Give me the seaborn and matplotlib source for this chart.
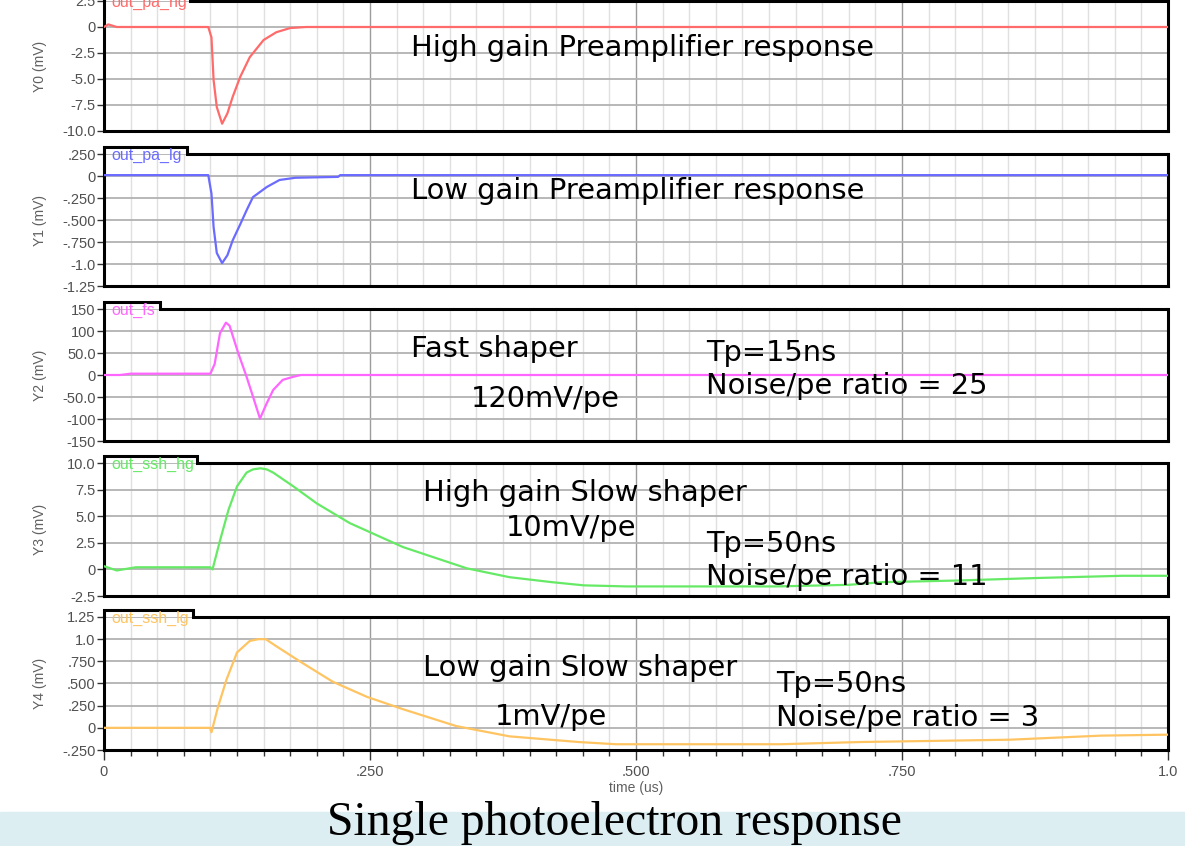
import numpy as np
import pandas as pd
import matplotlib
matplotlib.use("Agg")
import matplotlib.pyplot as plt
import seaborn as sns
from matplotlib.ticker import MultipleLocator
from matplotlib.patches import Rectangle

# --- traces: time (us), amplitude (mV) ---
t_pa_hg = [0, 0.004, 0.012, 0.098, 0.101, 0.103, 0.106, 0.111, 0.116, 0.121, 0.128, 0.137, 0.150, 0.162, 0.175, 0.19, 1.0]
v_pa_hg = [0, 0.25, 0, 0, -1.0, -5.1, -7.7, -9.3, -8.3, -6.7, -4.8, -2.9, -1.25, -0.5, -0.1, 0, 0]

t_pa_lg = [0, 0.098, 0.101, 0.103, 0.106, 0.111, 0.116, 0.121, 0.128, 0.134, 0.140, 0.153, 0.165, 0.180, 0.220, 0.222, 1.0]
v_pa_lg = [0.01, 0.01, -0.2, -0.58, -0.875, -0.99, -0.9, -0.73, -0.55, -0.39, -0.24, -0.125, -0.045, -0.02, -0.01, 0.01, 0.01]

t_fs = [0, 0.015, 0.025, 0.098, 0.100, 0.104, 0.109, 0.1146, 0.118, 0.126, 0.134, 0.140, 0.1466, 0.153, 0.159, 0.168, 0.178, 0.185, 1.0]
v_fs = [0, 0, 3, 3, 3, 25, 95, 119, 112, 51, -4, -49, -99, -64, -34, -11, -4, 0, 0]

t_ssh_hg = [0, 0.012, 0.03, 0.0996, 0.102, 0.109, 0.117, 0.125, 0.134, 0.140, 0.147, 0.153, 0.159, 0.178, 0.2, 0.231,
            0.281, 0.341, 0.381, 0.421, 0.451, 0.491, 0.632, 0.70, 0.731, 0.80, 0.88, 0.957, 1.0]
v_ssh_hg = [0.3, -0.1, 0.2, 0.2, 0.0, 2.7, 5.6, 7.8, 9.1, 9.4, 9.5, 9.4, 9.1, 7.8, 6.2, 4.35,
            2.1, 0.1, -0.73, -1.2, -1.5, -1.6, -1.6, -1.45, -1.2, -1.05, -0.8, -0.6, -0.6]

t_ssh_lg = [0, 0.0996, 0.101, 0.107, 0.115, 0.125, 0.137, 0.145, 0.152, 0.162, 0.184, 0.215, 0.247,
            0.281, 0.331, 0.381, 0.446, 0.481, 0.636, 0.711, 0.851, 0.937, 1.0]
v_ssh_lg = [0, 0, -0.05, 0.23, 0.54, 0.85, 0.98, 1.0, 1.0, 0.92, 0.75, 0.52, 0.35,
            0.21, 0.02, -0.096, -0.16, -0.185, -0.185, -0.16, -0.134, -0.088, -0.077]

trace_names = ["out_pa_hg", "out_pa_lg", "out_fs", "out_ssh_hg", "out_ssh_lg"]
y_labels = ["Y0 (mV)", "Y1 (mV)", "Y2 (mV)", "Y3 (mV)", "Y4 (mV)"]

yticks_0 = [2.5, 0, -2.5, -5.0, -7.5, -10.0]
ylabels_0 = ["2.5", "0", "-2.5", "-5.0", "-7.5", "-10.0"]
yticks_1 = [0.25, 0, -0.25, -0.5, -0.75, -1.0, -1.25]
ylabels_1 = [".250", "0", "-.250", "-.500", "-.750", "-1.0", "-1.25"]
yticks_2 = [150, 100, 50, 0, -50, -100, -150]
ylabels_2 = ["150", "100", "50.0", "0", "-50.0", "-100", "-150"]
yticks_3 = [10.0, 7.5, 5.0, 2.5, 0, -2.5]
ylabels_3 = ["10.0", "7.5", "5.0", "2.5", "0", "-2.5"]
yticks_4 = [1.25, 1.0, 0.75, 0.5, 0.25, 0, -0.25]
ylabels_4 = ["1.25", "1.0", ".750", ".500", ".250", "0", "-.250"]

xticks = [0, 0.25, 0.5, 0.75, 1.0]
xticklabels = ["0", ".250", ".500", ".750", "1.0"]

sns.set_theme(style="white")
plt.rcParams['font.family'] = ['DejaVu Sans']

W, H = 1185, 846
fig = plt.figure(figsize=(W / 100, H / 100), dpi=100)
fig.patch.set_facecolor("white")

# panel boxes in pixels: (top, bottom), plus tab right edge
panel_px = [(1, 131, 190), (154, 286, 187), (309, 441, 160), (463, 596, 197), (617, 750, 193)]
left_px, right_px = 104, 1168

series = [
    (t_pa_hg, v_pa_hg, "#ff6b6b", (-10, 2.5), yticks_0, ylabels_0),
    (t_pa_lg, v_pa_lg, "#6b6bff", (-1.25, 0.25), yticks_1, ylabels_1),
    (t_fs, v_fs, "#ff66ff", (-150, 150), yticks_2, ylabels_2),
    (t_ssh_hg, v_ssh_hg, "#66ea66", (-2.5, 10), yticks_3, ylabels_3),
    (t_ssh_lg, v_ssh_lg, "#ffc462", (-0.25, 1.25), yticks_4, ylabels_4),
]

axes = []
for i, (t, v, col, ylim, yt, ytl) in enumerate(series):
    top, bot, tab_end = panel_px[i]
    ax = fig.add_axes([left_px / W, 1 - bot / H, (right_px - left_px) / W, (bot - top) / H])
    axes.append(ax)
    df = pd.DataFrame({"time": t, "val": v})
    sns.lineplot(data=df, x="time", y="val", ax=ax, color=col, lw=1.6,
                 estimator=None, sort=False, zorder=3)
    ax.set_xlim(0, 1.0)
    ax.set_ylim(*ylim)
    ax.set_yticks(yt)
    ax.set_yticklabels(ytl, fontsize=10.5, color="#505050", family="Liberation Sans")
    ax.set_ylabel(y_labels[i], fontsize=10, color="#606060", family="Liberation Sans")
    ax.yaxis.set_label_coords(-0.054, 0.5)
    ax.set_xlabel("")

    ax.xaxis.set_major_locator(MultipleLocator(0.25))
    ax.xaxis.set_minor_locator(MultipleLocator(0.025))
    ax.set_axisbelow(True)
    ax.grid(which="minor", axis="x", color="#e0e0e0", lw=1)
    ax.grid(which="major", axis="x", color="#9c9c9c", lw=1)
    ax.grid(which="major", axis="y", color="#b2b2b2", lw=1.3)

    ax.tick_params(axis="y", which="major", direction="out", length=5, width=1,
                   color="#333333", pad=1, left=True)
    if i < 4:
        ax.tick_params(axis="x", which="both", length=0, labelbottom=False)

    for side in ["left", "right", "bottom"]:
        ax.spines[side].set_visible(True)
        ax.spines[side].set_color("black")
        ax.spines[side].set_linewidth(2.2)
    ax.spines["top"].set_visible(False)

    # header tab with trace name
    ah = bot - top
    th = 7 / ah
    tw = (tab_end - left_px) / (right_px - left_px)
    ax.plot([0, 0, tw, tw, 1], [1, 1 + th, 1 + th, 1, 1], transform=ax.transAxes,
            color="black", lw=2.2, clip_on=False, zorder=5, solid_joinstyle="miter")
    ax.text(7 / (right_px - left_px), 1 - 1 / ah, trace_names[i], transform=ax.transAxes,
            color=col, fontsize=11.5, family="Liberation Sans", va="center", ha="left",
            zorder=6)

# bottom axis ticks and labels
axb = axes[-1]
axb.set_xticks(xticks)
axb.set_xticklabels(xticklabels, fontsize=10.5, color="#505050", family="Liberation Sans")
axb.tick_params(axis="x", which="major", direction="out", length=7, width=1,
                color="#333333", bottom=True, pad=4)
axb.tick_params(axis="x", which="minor", direction="out", length=4, width=1,
                color="#333333", bottom=True)
axb.set_xlabel("time (us)", fontsize=10, color="#606060", family="Liberation Sans", labelpad=1)

# annotations
txt = dict(fontsize=20.8, color="black", va="center", ha="left")
axes[0].text(0.2885, -2.0, "High gain Preamplifier response", **txt)
axes[1].text(0.2885, -0.17, "Low gain Preamplifier response", **txt)
axes[2].text(0.2885, 59, "Fast shaper", **txt)
axes[2].text(0.345, -55, "120mV/pe", **txt)
axes[2].text(0.566, 50, "Tp=15ns", **txt)
axes[2].text(0.566, -25, "Noise/pe ratio = 25", **txt)
axes[3].text(0.2998, 7.2, "High gain Slow shaper", **txt)
axes[3].text(0.378, 3.9, "10mV/pe", **txt)
axes[3].text(0.566, 2.4, "Tp=50ns", **txt)
axes[3].text(0.566, -0.67, "Noise/pe ratio = 11", **txt)
axes[4].text(0.2998, 0.67, "Low gain Slow shaper", **txt)
axes[4].text(0.3675, 0.126, "1mV/pe", **txt)
axes[4].text(0.632, 0.49, "Tp=50ns", **txt)
axes[4].text(0.632, 0.115, "Noise/pe ratio = 3", **txt)

# caption band
fig.patches.append(Rectangle((0, 0), 1, (H - 812) / H, transform=fig.transFigure,
                             color="#ddeef2", zorder=0))
fig.text(614 / W, 1 - 835 / H, "Single photoelectron response", fontsize=34.3,
         family="Liberation Serif", ha="center", va="baseline", color="black")

fig.savefig("out.png", dpi=100)
